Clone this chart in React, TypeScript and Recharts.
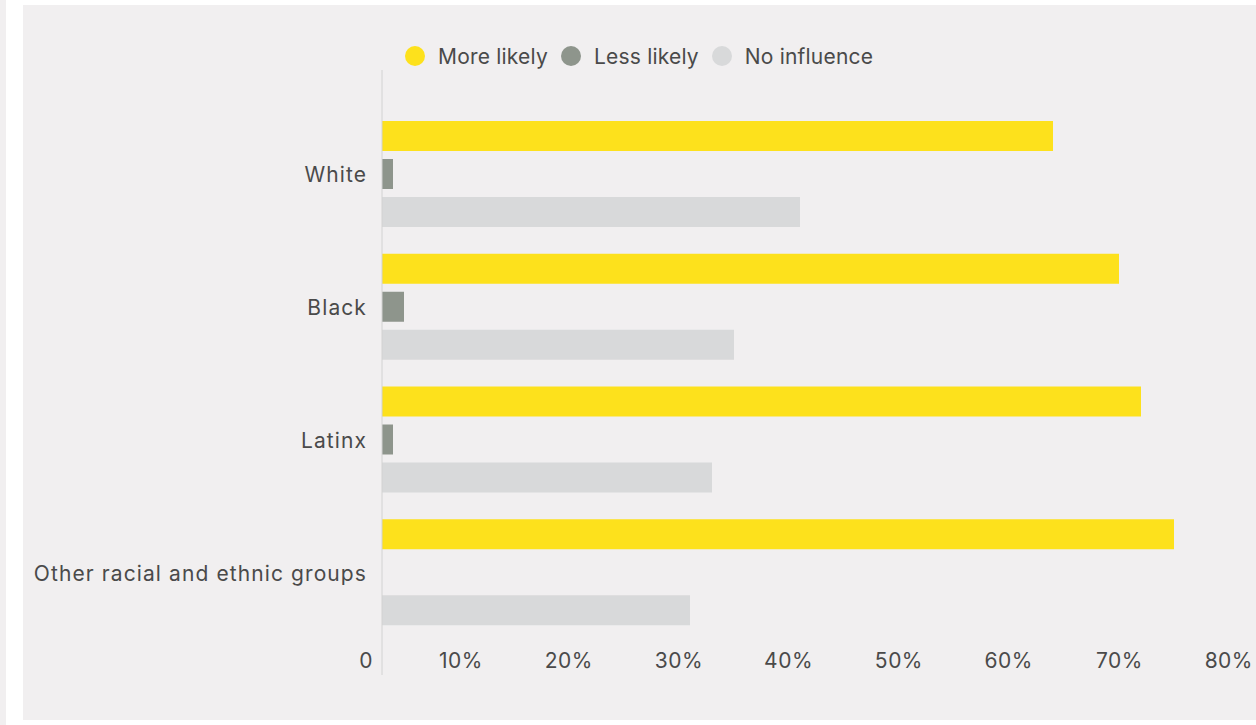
import { Bar, BarChart, XAxis, YAxis } from "recharts";

const groups = ["White", "Black", "Latinx", "Other racial and ethnic groups"];
const moreLikely = [61, 67, 69, 72];
const lessLikely = [1, 2, 1, 0];
const noInfluence = [38, 32, 30, 28];
const xTicks = [0, 10, 20, 30, 40, 50, 60, 70, 80];

const series = [
  { key: "more", name: "More likely", color: "#fde11c" },
  { key: "less", name: "Less likely", color: "#8e958c" },
  { key: "none", name: "No influence", color: "#d8d9da" },
];

const data = groups.map((g, i) => ({
  group: g,
  more: moreLikely[i],
  less: lessLikely[i],
  none: noInfluence[i],
}));

const FONT = "Inter, 'Noto Sans', sans-serif";
const TEXT = "#4a4a4a";

function XTick({ x, y, payload }: any) {
  const v = payload.value;
  return (
    <text x={x - 9} y={y - 7} textAnchor="end" fontSize={21} fontFamily={FONT} fill={TEXT} letterSpacing={0.5}>
      {v === 0 ? "0" : `${v}%`}
    </text>
  );
}

function YTick({ x, y, payload }: any) {
  return (
    <text x={x} y={y} dy={8} textAnchor="end" fontSize={21} fontFamily={FONT} fill={TEXT} letterSpacing={1.1}>
      {payload.value}
    </text>
  );
}

export default function App() {
  return (
    <div style={{ position: "absolute", left: 0, top: 0, width: 1256, height: 725, background: "#fff", overflow: "hidden" }}>
      <div style={{ position: "absolute", left: 0, top: 0, width: 6, height: 725, background: "#f1eff0" }} />
      <div
        style={{
          position: "absolute",
          left: 23,
          top: 5,
          width: 1233,
          height: 715,
          background: "#f1eff0",
          overflow: "hidden",
        }}
      >
        <div
          style={{
            position: "absolute",
            left: 382,
            top: 41,
            height: 20,
            display: "flex",
            alignItems: "center",
            fontFamily: FONT,
            fontSize: 21,
            letterSpacing: 0.2,
            color: TEXT,
            whiteSpace: "nowrap",
          }}
        >
          {series.map((s) => (
            <div key={s.key} style={{ display: "flex", alignItems: "center", marginRight: 13 }}>
              <span style={{ width: 20, height: 20, borderRadius: 10, background: s.color, marginRight: 13 }} />
              <span>{s.name}</span>
            </div>
          ))}
        </div>
        <BarChart
          width={1250}
          height={715}
          data={data}
          layout="vertical"
          barSize={30}
          barGap={8}
          margin={{ top: 65, right: 11, bottom: 15, left: 0 }}
        >
          <XAxis
            type="number"
            domain={[0, 80]}
            ticks={xTicks}
            axisLine={false}
            tickLine={false}
            tickSize={0}
            tickMargin={0}
            height={30}
            tick={<XTick />}
          />
          <YAxis
            type="category"
            dataKey="group"
            width={359}
            padding={{ top: 38, bottom: 36 }}
            axisLine={{ stroke: "#d2d2d2" }}
            tickLine={false}
            tickSize={0}
            tickMargin={15}
            tick={<YTick />}
          />
          {series.map((s) => (
            <Bar key={s.key} dataKey={s.key} name={s.name} fill={s.color} isAnimationActive={false} />
          ))}
        </BarChart>
      </div>
    </div>
  );
}
